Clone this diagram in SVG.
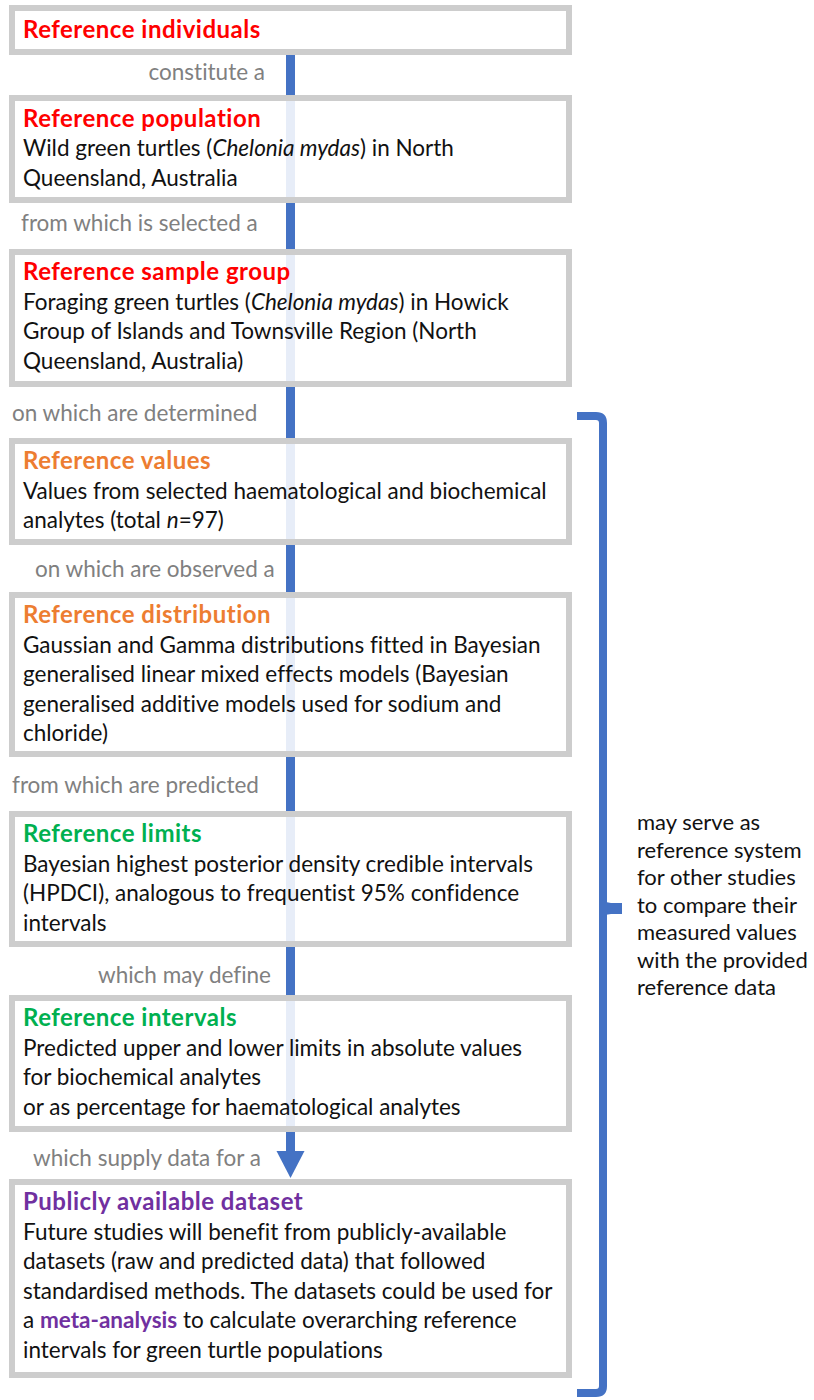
<svg xmlns="http://www.w3.org/2000/svg" width="814" height="1400" viewBox="0 0 814 1400">
<defs>
<style>
text{font-family:Lato,"Open Sans","Liberation Sans",sans-serif;font-size:22.5px;fill:#111;font-variant-ligatures:none}
.box{fill:#fff;fill-opacity:0.87;stroke:#cdcdcd;stroke-width:6}
.t{font-weight:bold;font-size:24px;letter-spacing:0.5px}
.red{fill:#ff0000}.org{fill:#ed7d31}.grn{fill:#00b050}.pur{fill:#7030a0}
.lbl{fill:#808080}
.side{font-size:22px}
</style>
</defs>
<g id="connectors">
<line x1="290.5" y1="52" x2="290.5" y2="1152" stroke="#4472c4" stroke-width="9"/>
<path d="M276.5,1151 L304.5,1151 L290.5,1178 Z" fill="#4472c4"/>
<path d="M577,416 H596 Q603,416 603,423 V1386 Q603,1393 596,1393 H577" fill="none" stroke="#4472c4" stroke-width="8"/>
<path d="M602,900 Q606,903 611,903 L622,903 L622,914 L611,914 Q606,914 602,917 Z" fill="#4472c4"/>
</g>
<g id="labels">
<text class="lbl" x="265" y="80" text-anchor="end">constitute a</text>
<text class="lbl" x="21" y="231">from which is selected a</text>
<text class="lbl" x="12" y="421">on which are determined</text>
<text class="lbl" x="35" y="577">on which are observed a</text>
<text class="lbl" x="12" y="793">from which are predicted</text>
<text class="lbl" x="271" y="983" text-anchor="end">which may define</text>
<text class="lbl" x="33" y="1166">which supply data for a</text>
</g>
<g id="n1">
<rect class="box" x="12" y="8" width="557" height="44"/>
<text class="t red" x="23" y="38">Reference individuals</text>
</g>
<g id="n2">
<rect class="box" x="12" y="98" width="557" height="102"/>
<text class="t red" x="23" y="127">Reference population</text>
<text x="23" y="156">Wild green turtles (<tspan font-style="italic">Chelonia mydas</tspan>) in North</text>
<text x="23" y="185.5">Queensland, Australia</text>
</g>
<g id="n3">
<rect class="box" x="12" y="252" width="557" height="132"/>
<text class="t red" x="23" y="280">Reference sample group</text>
<text x="23" y="309.5">Foraging green turtles (<tspan font-style="italic">Chelonia mydas</tspan>) in Howick</text>
<text x="23" y="339">Group of Islands and Townsville Region (North</text>
<text x="23" y="368.5">Queensland, Australia)</text>
</g>
<g id="n4">
<rect class="box" x="12" y="441" width="557" height="101"/>
<text class="t org" x="23" y="469">Reference values</text>
<text x="23" y="498.5">Values from selected haematological and biochemical</text>
<text x="23" y="528">analytes (total <tspan font-style="italic">n</tspan>=97)</text>
</g>
<g id="n5">
<rect class="box" x="12" y="595" width="557" height="159"/>
<text class="t org" x="23" y="623">Reference distribution</text>
<text x="23" y="652.5">Gaussian and Gamma distributions fitted in Bayesian</text>
<text x="23" y="682">generalised linear mixed effects models (Bayesian</text>
<text x="23" y="711.5">generalised additive models used for sodium and</text>
<text x="23" y="741">chloride)</text>
</g>
<g id="n6">
<rect class="box" x="12" y="814" width="557" height="130"/>
<text class="t grn" x="23" y="842">Reference limits</text>
<text x="23" y="871.5">Bayesian highest posterior density credible intervals</text>
<text x="23" y="901">(HPDCI), analogous to frequentist 95% confidence</text>
<text x="23" y="930.5">intervals</text>
</g>
<g id="n7">
<rect class="box" x="12" y="998" width="557" height="131"/>
<text class="t grn" x="23" y="1026">Reference intervals</text>
<text x="23" y="1055.5">Predicted upper and lower limits in absolute values</text>
<text x="23" y="1085">for biochemical analytes</text>
<text x="23" y="1114.5">or as percentage for haematological analytes</text>
</g>
<g id="n8">
<rect class="box" x="12" y="1182" width="557" height="193"/>
<text class="t pur" x="23" y="1210">Publicly available dataset</text>
<text x="23" y="1239.5">Future studies will benefit from publicly-available</text>
<text x="23" y="1269">datasets (raw and predicted data) that followed</text>
<text x="23" y="1298.5">standardised methods. The datasets could be used for</text>
<text x="23" y="1328">a <tspan class="pur" font-weight="bold">meta-analysis</tspan> to calculate overarching reference</text>
<text x="23" y="1357.5">intervals for green turtle populations</text>
</g>
<g id="side">
<text class="side" x="637" y="830">may serve as</text>
<text class="side" x="637" y="857.5">reference system</text>
<text class="side" x="637" y="885">for other studies</text>
<text class="side" x="637" y="912.5">to compare their</text>
<text class="side" x="637" y="940">measured values</text>
<text class="side" x="637" y="967.5">with the provided</text>
<text class="side" x="637" y="995">reference data</text>
</g>
</svg>
